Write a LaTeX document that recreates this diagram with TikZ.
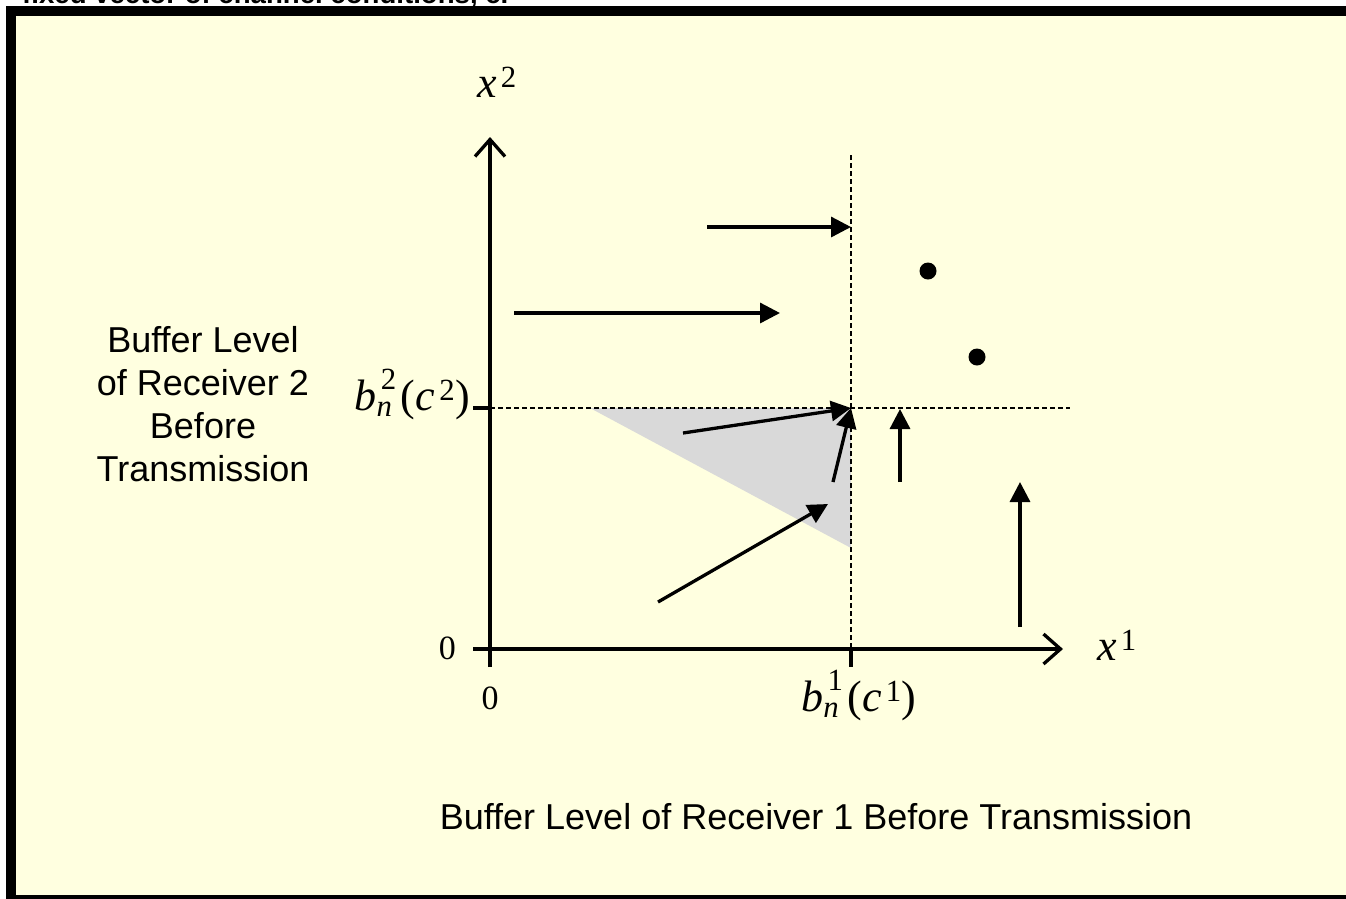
\documentclass[tikz,border=0pt]{standalone}
\usepackage{amsmath}
\usepackage{fontspec}
\setmainfont{Liberation Serif}
\setsansfont{Liberation Sans}
\usetikzlibrary{arrows.meta}
\definecolor{paper}{HTML}{FFFFE0}
\definecolor{shadegray}{HTML}{D9D9D9}
\newcommand\bsym[1]{$\textit{b}^{\,\textup{#1}}_{\textit{n}}\,$(\textit{c}$^{\,\textup{#1}}$)}
\begin{document}
\begin{tikzpicture}[x=1pt,y=-1pt,
  vec/.style={line width=3.3pt,-{Triangle[length=20pt,width=20pt]}},
  axisline/.style={line width=3.3pt,-{Straight Barb[length=17pt,width=30pt]}},
  guide/.style={line width=1.5pt,dash pattern=on 5pt off 3pt},
  tick/.style={line width=3.3pt},
  lab/.style={font=\sffamily\fontsize{36}{43}\selectfont,align=center,inner sep=0pt},
  mlab/.style={font=\rmfamily\fontsize{44}{50}\selectfont,inner sep=0pt},
  dot/.style={circle,fill=black,inner sep=0pt,minimum size=17pt}]
\useasboundingbox (0,0) rectangle (1346,898);
\clip (0,0) rectangle (1346,898);
\fill[white] (0,0) rectangle (1346,898);
\draw[line width=10pt,fill=paper] (11,11) rectangle (1380,900);
\node[anchor=base west,inner sep=0pt,font=\sffamily\bfseries\fontsize{27.6}{30}\selectfont] (title) at (22,3) {fixed vector of channel conditions, c.};
% key points
\coordinate (O) at (490,649);
\coordinate (ytop) at (490,137);
\coordinate (ybot) at (490,667);
\coordinate (xleft) at (473,649);
\coordinate (xend) at (1063,649);
\coordinate (K) at (851,408);
\coordinate (vtop) at (851,155);
\coordinate (vbot) at (851,649);
\coordinate (vtick) at (851,667);
\coordinate (hstart) at (490,408);
\coordinate (hend) at (1070,408);
\coordinate (htick) at (473,408);
\coordinate (tri1) at (590,408);
\coordinate (tri2) at (851,548);
% shaded region
\fill[shadegray] (tri1) -- (K) -- (tri2) -- cycle;
% guides
\draw[guide] (vtop) -- (vbot);
\draw[guide] (hstart) -- (hend);
% axes
\draw[axisline] (ybot) -- (ytop);
\draw[axisline] (xleft) -- (xend);
\draw[tick] (vbot) -- (vtick);
\draw[tick] (htick) -- (hstart);
% vectors
\coordinate (a1s) at (707,227); \coordinate (a1e) at (851,227);
\coordinate (a2s) at (514,313); \coordinate (a2e) at (780,313);
\coordinate (a3s) at (683,433);
\coordinate (a4s) at (833,482);
\coordinate (a5s) at (658,602); \coordinate (a5e) at (828,504);
\coordinate (a6s) at (900,482); \coordinate (a6e) at (900,409);
\coordinate (a7s) at (1020,627); \coordinate (a7e) at (1020,482);
\draw[vec] (a1s) -- (a1e);
\draw[vec] (a2s) -- (a2e);
\draw[vec] (a3s) -- (K);
\draw[vec] (a4s) -- (K);
\draw[vec] (a5s) -- (a5e);
\draw[vec] (a6s) -- (a6e);
\draw[vec] (a7s) -- (a7e);
% dots
\node[dot] (d1) at (928,271) {};
\node[dot] (d2) at (977,357) {};
% labels
\node[mlab,anchor=base west] (x2) at (477,97) {\textit{x}$^{\,\textup{2}}$};
\node[mlab,anchor=base west] (x1) at (1097,660) {\textit{x}$^{\,\textup{1}}$};
\node[mlab,anchor=base east] (b2) at (470,410) {\bsym{2}};
\node[mlab,anchor=base] (b1) at (859,711) {\bsym{1}};
\node[mlab,anchor=base east,font=\rmfamily\fontsize{34}{40}\selectfont] (zl) at (456,659) {0};
\node[mlab,anchor=base,font=\rmfamily\fontsize{34}{40}\selectfont] (zb) at (490,709) {0};
\node[lab] (ylab) at (203,404) {Buffer Level\\of Receiver 2\\Before\\Transmission};
\node[lab] (xlab) at (816,817) {Buffer Level of Receiver 1 Before Transmission};
\end{tikzpicture}
\end{document}
